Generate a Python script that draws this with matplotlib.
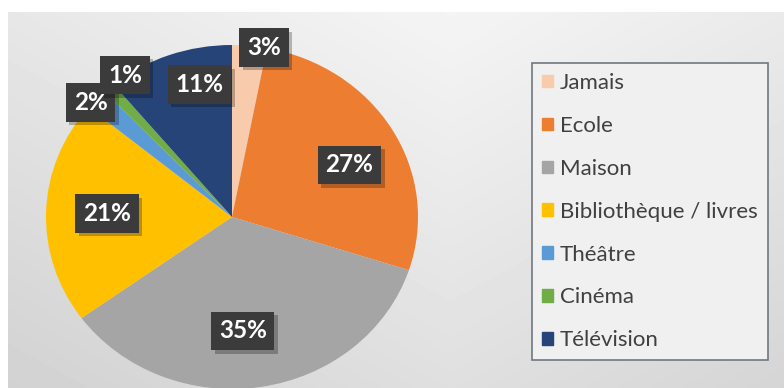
import matplotlib
matplotlib.use("Agg")
import matplotlib.pyplot as plt
import matplotlib.patches as mpatches
import matplotlib.patheffects as pe
import numpy as np

# data
categories = ["Jamais", "Ecole", "Maison", "Bibliothèque / livres",
              "Théâtre", "Cinéma", "Télévision"]
shares = [3, 27, 35, 21, 2, 1, 11]
colors = ["#F8CBAD", "#ED7D31", "#A5A5A5", "#FFC000",
          "#5B9BD5", "#70AD47", "#264478"]

# label layout (radial distance, angle shift in degrees)
label_dist = [1.0, 0.70, 0.665, 0.672, 1.01, 1.006, 0.79]
label_shift = [-4.5, -5.0, -4.0, 0.0, 2.0, -6.5, -7.0]

W, H = 784, 388
fig = plt.figure(figsize=(W / 100, H / 100), dpi=100)
fig.patch.set_facecolor("white")

# background gradient panel
bg = fig.add_axes([8 / W, 0, (W - 8) / W, (H - 12) / H])
yy, xx = np.mgrid[12:H, 8:W]
val = 0.965 - 0.00012 * np.abs(xx - 450) - 0.00022 * np.abs(yy + 20)
bg.imshow(val, cmap="gray", vmin=0, vmax=1, aspect="auto",
          interpolation="bilinear")
bg.axis("off")

# pie (slightly stretched ellipse)
cx, cy, rx, ry = 232, 217, 186, 172
ax = fig.add_axes([(cx - rx) / W, (H - cy - ry) / H, 2 * rx / W, 2 * ry / H])
wedges, _ = ax.pie(shares, colors=colors, startangle=90, counterclock=False,
                   radius=1.0, wedgeprops=dict(linewidth=0))
ax.set_xlim(-1, 1)
ax.set_ylim(-1, 1)
ax.set_aspect("auto")
ax.axis("off")

shadow = [pe.SimplePatchShadow(offset=(2.5, -2.5), shadow_rgbFace="black",
                               alpha=0.25), pe.Normal()]
for w, s, d, sh in zip(wedges, shares, label_dist, label_shift):
    th = np.deg2rad((w.theta1 + w.theta2) / 2 + sh)
    x, y = d * np.cos(th), d * np.sin(th)
    t = ax.text(x, y, f"{s}%", ha="center", va="center", fontsize=17.5,
                fontweight="bold", family="Lato", color="white",
                bbox=dict(boxstyle="square,pad=0.32", fc="#3b3b3b", ec="none"),
                zorder=6)
    t.get_bbox_patch().set_path_effects(shadow)

handles = [mpatches.Patch(color=c, label=l) for c, l in zip(colors, categories)]
leg = fig.legend(handles=handles, loc="upper left",
                 bbox_to_anchor=(532 / W, 1 - 63 / H),
                 prop=dict(family="Lato", size=16), labelcolor="#404040",
                 frameon=True, fancybox=False, edgecolor="#6f7780",
                 facecolor="#f0f0f0", framealpha=1, borderpad=0.45,
                 labelspacing=1.03, handlelength=0.5, handleheight=0.5,
                 handletextpad=0.3, borderaxespad=0)
leg.get_frame().set_linewidth(1.2)

fig.savefig("out.png", dpi=100)
